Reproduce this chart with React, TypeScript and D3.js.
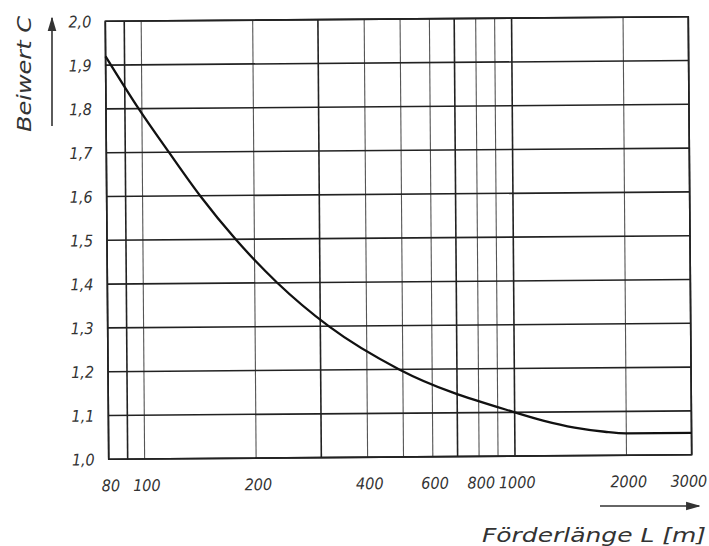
import React from 'react';
import * as d3 from 'd3';

// Förderlänge L [m] and Beiwert C (grid crossings + tail)
const lengths = [80, 98, 118, 143, 178, 230, 316, 489, 1000, 1200, 1450, 1750, 2000, 3000];
const coeffs = [1.92, 1.80, 1.70, 1.60, 1.50, 1.40, 1.30, 1.20, 1.10, 1.08, 1.064, 1.054, 1.05, 1.05];

const xGrid = [80, 90, 100, 200, 300, 400, 500, 600, 700, 800, 900, 1000, 2000, 3000];
const xDark = [80, 90, 300, 700, 1000, 3000];
const xTicks = [80, 100, 200, 400, 600, 800, 1000, 2000, 3000];
const yTicks = [1.0, 1.1, 1.2, 1.3, 1.4, 1.5, 1.6, 1.7, 1.8, 1.9, 2.0];

const W = 709;
const H = 546;
const left = 107, right = 690, top = 19, bottom = 457;

export default function App() {
  const x = d3.scaleLog().domain([80, 3000]).range([left, right]);
  const y = d3.scaleLinear().domain([1, 2]).range([bottom, top]);

  const points: [number, number][] = lengths.map((l, i) => [l, coeffs[i]]);
  const line = d3.line<[number, number]>()
    .x((d) => x(d[0]))
    .y((d) => y(d[1]))
    .curve(d3.curveMonotoneX);

  const font = '"DejaVu Sans Condensed", "DejaVu Sans", sans-serif';
  const fmt = (v: number) => v.toFixed(1).replace('.', ',');

  return (
    <svg width={W} height={H} style={{ position: 'absolute', left: 0, top: 0, background: '#fff' }}>
      <defs>
        <marker id="arr" viewBox="0 0 10 10" refX="9" refY="5" markerWidth="9" markerHeight="9" orient="auto-start-reverse">
          <path d="M0,2 L10,5 L0,8 z" fill="#333" />
        </marker>
      </defs>
      <g transform={`rotate(-0.45 ${(left + right) / 2} ${(top + bottom) / 2})`}>
        {/* vertical grid */}
        {xGrid.map((v) => {
          const dark = xDark.includes(v);
          return (
            <line key={'v' + v} x1={x(v)} x2={x(v)} y1={top} y2={bottom}
              stroke={dark ? '#222' : '#555'} strokeWidth={dark ? 1.6 : 1.1} />
          );
        })}
        {/* horizontal grid */}
        {yTicks.map((v) => (
          <line key={'h' + v} x1={left} x2={right} y1={y(v)} y2={y(v)}
            stroke="#222" strokeWidth={1.6} />
        ))}
        <rect x={left} y={top} width={right - left} height={bottom - top}
          fill="none" stroke="#222" strokeWidth={1.6} />
        <path d={line(points) || ''} fill="none" stroke="#111" strokeWidth={2.3} />

        {yTicks.map((v) => (
          <text key={'yt' + v} x={left - 14} y={y(v) + 6} textAnchor="end"
            fontFamily={font} fontStyle="italic" fontSize={16} fill="#333">
            {fmt(v)}
          </text>
        ))}
        {xTicks.map((v, i) => (
          <text key={'xt' + v} x={x(v) + (i === xTicks.length - 1 ? -3 : 2)} y={489} textAnchor="middle"
            fontFamily={font} fontStyle="italic" fontSize={16} fill="#333">
            {v}
          </text>
        ))}
      </g>

      {/* axis titles with arrows */}
      <line x1={52} y1={126} x2={52} y2={18} stroke="#333" strokeWidth={1.6} markerEnd="url(#arr)" />
      <text transform="translate(31,132) rotate(-90)" textLength={116} lengthAdjust="spacingAndGlyphs"
        fontFamily={font} fontStyle="italic" fontSize={19} fill="#333">
        Beiwert C
      </text>
      <line x1={600} y1={506} x2={699} y2={506} stroke="#333" strokeWidth={1.6} markerEnd="url(#arr)" />
      <text x={482} y={542} textLength={224} lengthAdjust="spacingAndGlyphs"
        fontFamily={font} fontStyle="italic" fontSize={19} fill="#333">
        Förderlänge L [m]
      </text>
    </svg>
  );
}
